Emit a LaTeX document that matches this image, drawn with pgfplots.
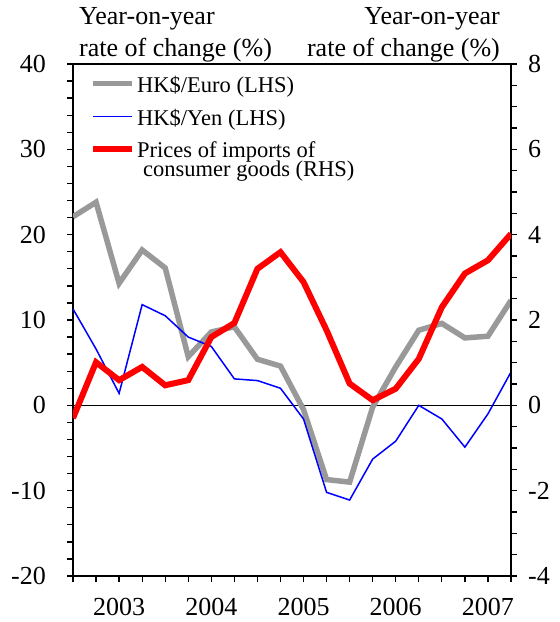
\documentclass[border=0pt]{standalone}
\usepackage{fontspec}
\setmainfont{Liberation Serif}
\usepackage{pgfplots}
\usepackage{pgfplotstable}
\pgfplotsset{compat=1.18}
\definecolor{eurogray}{RGB}{153,153,153}
\pgfplotstableread{
x euro yen imp
0 22.1 11.3 -0.3
1 23.8 6.6 1.01
2 14.3 1.4 0.59
3 18.2 11.8 0.90
4 16.1 10.5 0.47
5 5.7 8.0 0.59
6 8.6 6.9 1.60
7 9.2 3.1 1.93
8 5.4 2.9 3.20
9 4.6 2.0 3.59
10 -0.5 -1.6 2.89
11 -8.7 -10.2 1.76
12 -9.0 -11.1 0.51
13 -0.2 -6.3 0.12
14 4.5 -4.2 0.39
15 8.8 0.0 1.09
16 9.6 -1.6 2.30
17 7.9 -4.9 3.09
18 8.1 -1.0 3.40
19 12.3 3.9 4.02
}\data
\newcommand{\twoline}{\vtop{\baselineskip=18.8pt\lineskiplimit=-100pt\hbox{Prices of imports of}\hbox{\hspace{6pt}consumer goods (RHS)}}}
\begin{document}
\begin{tikzpicture}
\pgfplotsset{
  common/.style={
    scale only axis, width=438pt, height=512pt,
    xmin=0, xmax=19,
    tick align=outside,
    major tick length=6pt, minor tick length=6pt,
    axis line style={line width=1.8pt},
    tick style={line width=1.3pt, black},
    ticklabel style={font=\fontsize{26}{30}\selectfont, inner sep=0pt},
  }
}
\begin{axis}[common,
  ymin=-20, ymax=40,
  ytick={-20,-10,...,40}, yticklabels={-20,-10,0,10,20,30,40},
  minor y tick num=4,
  ytick pos=left, xtick pos=bottom,
  xtick={0,...,19},
  xticklabels={,,2003,,,,2004,,,,2005,,,,2006,,,,2007,},
  yticklabel style={anchor=east, xshift=-21pt},
  xticklabel style={anchor=north, yshift=-16pt},
  legend style={at={(rel axis cs:0,1)}, anchor=north west, xshift=17pt, yshift=-10pt,
    draw=none, fill=none, inner sep=0pt,
    font=\fontsize{22.5}{18.3}\selectfont,
    cells={anchor=base west, inner xsep=1.5pt, inner ysep=0pt},
    row sep=11pt},
  legend image code/.code={\draw[#1] (0pt,9pt) -- (39pt,9pt);},
]
\coordinate (bl) at (rel axis cs:0,0);
\coordinate (tr) at (rel axis cs:1,1);
\coordinate (tl) at (rel axis cs:0,1);
\addplot[black, line width=1.5pt, forget plot] coordinates {(0,0) (19,0)};
\addplot[eurogray, line width=5.5pt] table[x=x, y=euro] {\data};
\addlegendentry{HK\$/Euro (LHS)}
\addplot[blue, line width=1.5pt] table[x=x, y=yen] {\data};
\addlegendentry{HK\$/Yen (LHS)}
\addlegendimage{red, line width=6pt}
\addlegendentry{\twoline}
\end{axis}
\begin{axis}[common,
  ymin=-4, ymax=8,
  axis y line*=right, axis x line=none,
  ytick={-4,-2,...,8}, yticklabels={-4,-2,0,2,4,6,8},
  minor y tick num=3,
  yticklabel style={anchor=west, xshift=11pt},
]
\addplot[red, line width=6pt] table[x=x, y=imp] {\data};
\end{axis}
\node[anchor=south west, align=left, inner sep=0pt, font=\fontsize{26}{31.7}\selectfont]
  at ([xshift=6pt, yshift=2pt]tl) {Year-on-year\\rate of change (\%)};
\node[anchor=south east, align=right, inner sep=0pt, font=\fontsize{26}{31.7}\selectfont]
  at ([xshift=-11pt, yshift=2pt]tr) {Year-on-year\\rate of change (\%)};
\pgfresetboundingbox
\path ([shift={(-73pt,-46pt)}]bl) rectangle ([shift={(49pt,64pt)}]tr);
\end{tikzpicture}
\end{document}
